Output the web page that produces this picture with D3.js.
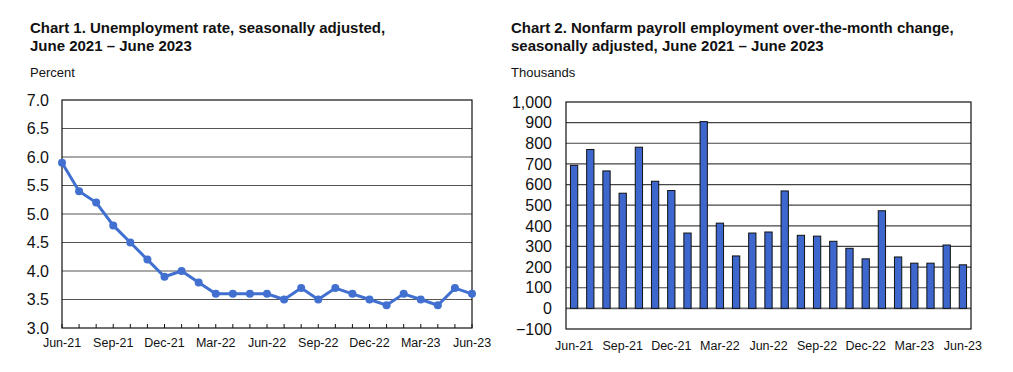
<!DOCTYPE html>
<html>
<head>
<meta charset="utf-8">
<script src="https://cdn.jsdelivr.net/npm/d3@7"></script>
<style>
  body { margin: 0; background: #fff; }
  svg { font-family: Arial, "Liberation Sans", sans-serif; }
</style>
</head>
<body>
<svg id="chart" width="1013" height="372"></svg>
<script>
// months shared by both charts
const months = ["Jun-21","Jul-21","Aug-21","Sep-21","Oct-21","Nov-21","Dec-21","Jan-22","Feb-22","Mar-22",
  "Apr-22","May-22","Jun-22","Jul-22","Aug-22","Sep-22","Oct-22","Nov-22","Dec-22","Jan-23",
  "Feb-23","Mar-23","Apr-23","May-23","Jun-23"];
const labelMonths = ["Jun-21","Sep-21","Dec-21","Mar-22","Jun-22","Sep-22","Dec-22","Mar-23","Jun-23"];

// chart 1: unemployment rate (percent)
const unemployment = [5.9,5.4,5.2,4.8,4.5,4.2,3.9,4.0,3.8,3.6,3.6,3.6,3.6,3.5,3.7,3.5,3.7,3.6,3.5,3.4,3.6,3.5,3.4,3.7,3.6];
const rateTicks = [3.0,3.5,4.0,4.5,5.0,5.5,6.0,6.5,7.0];

// chart 2: payroll change (thousands)
const payroll = [693,770,666,558,781,616,571,365,905,413,254,365,370,569,354,350,325,291,240,473,249,219,219,307,211];
const payrollTicks = [-100,0,100,200,300,400,500,600,700,800,900,1000];

const svg = d3.select("#chart");
const blue = "#4170d0";

function titleBlock(x, lines, unit) {
  const t = svg.append("text")
    .attr("x", x).attr("y", 33)
    .attr("font-size", 15).attr("font-weight", "bold").attr("fill", "#111");
  lines.forEach((l, i) => {
    t.append("tspan").attr("x", x).attr("dy", i === 0 ? 0 : 18).text(l);
  });
  svg.append("text").attr("x", x).attr("y", 77)
    .attr("font-size", 13).attr("fill", "#111").text(unit);
}

// ---------- Chart 1 ----------
titleBlock(30, ["Chart 1. Unemployment rate, seasonally adjusted,", "June 2021 \u2013 June 2023"], "Percent");

const m1 = {left: 62, right: 472, top: 100, bottom: 328};
const x1 = d3.scalePoint().domain(months).range([m1.left, m1.right]);
const y1 = d3.scaleLinear().domain([3, 7]).range([m1.bottom, m1.top]);

const g1 = svg.append("g");
g1.selectAll("line.grid").data(rateTicks.slice(1, -1)).join("line")
  .attr("class", "grid")
  .attr("x1", m1.left).attr("x2", m1.right)
  .attr("y1", d => y1(d)).attr("y2", d => y1(d))
  .attr("stroke", "#555").attr("stroke-width", 1.2);

g1.append("rect")
  .attr("x", m1.left).attr("y", m1.top)
  .attr("width", m1.right - m1.left).attr("height", m1.bottom - m1.top)
  .attr("fill", "none").attr("stroke", "#111").attr("stroke-width", 1.2);

// month ticks pointing up into the plot
g1.selectAll("line.tick").data(months).join("line")
  .attr("class", "tick")
  .attr("x1", d => x1(d)).attr("x2", d => x1(d))
  .attr("y1", m1.bottom).attr("y2", m1.bottom - 4)
  .attr("stroke", "#111");

g1.selectAll("text.ylab").data(rateTicks).join("text")
  .attr("class", "ylab")
  .attr("x", 49).attr("y", d => y1(d)).attr("dy", "0.36em")
  .attr("text-anchor", "end").attr("font-size", 16).attr("fill", "#111")
  .text(d => d3.format(".1f")(d));

g1.selectAll("text.xlab").data(labelMonths).join("text")
  .attr("class", "xlab")
  .attr("x", d => x1(d)).attr("y", 347)
  .attr("text-anchor", "middle").attr("font-size", 12.5).attr("fill", "#111")
  .text(d => d);

const line = d3.line().x((d, i) => x1(months[i])).y(d => y1(d));
g1.append("path").datum(unemployment)
  .attr("d", line).attr("fill", "none")
  .attr("stroke", blue).attr("stroke-width", 3);
g1.selectAll("circle").data(unemployment).join("circle")
  .attr("cx", (d, i) => x1(months[i])).attr("cy", d => y1(d))
  .attr("r", 4).attr("fill", blue);

// ---------- Chart 2 ----------
titleBlock(511, ["Chart 2. Nonfarm payroll employment over-the-month change,", "seasonally adjusted, June 2021 \u2013 June 2023"], "Thousands");

const m2 = {left: 566, right: 971, top: 102, bottom: 329};
const x2 = d3.scaleBand().domain(months).range([m2.left, m2.right]).paddingInner(0.55).paddingOuter(0.275);
const y2 = d3.scaleLinear().domain([-100, 1000]).range([m2.bottom, m2.top]);

const g2 = svg.append("g");
g2.selectAll("line.grid").data(payrollTicks.slice(1, -1)).join("line")
  .attr("class", "grid")
  .attr("x1", m2.left).attr("x2", m2.right)
  .attr("y1", d => y2(d)).attr("y2", d => y2(d))
  .attr("stroke", d => d === 0 ? "#666" : "#444").attr("stroke-width", d => d === 0 ? 1.8 : 1.2);

g2.selectAll("rect.bar").data(payroll).join("rect")
  .attr("class", "bar")
  .attr("x", (d, i) => x2(months[i])).attr("width", x2.bandwidth())
  .attr("y", d => y2(Math.max(0, d))).attr("height", d => Math.abs(y2(d) - y2(0)))
  .attr("fill", "#3d67cc").attr("stroke", "#111").attr("stroke-width", 1);

g2.append("rect")
  .attr("x", m2.left).attr("y", m2.top)
  .attr("width", m2.right - m2.left).attr("height", m2.bottom - m2.top)
  .attr("fill", "none").attr("stroke", "#111").attr("stroke-width", 1.2);

g2.selectAll("text.ylab").data(payrollTicks).join("text")
  .attr("class", "ylab")
  .attr("x", 552).attr("y", d => y2(d)).attr("dy", "0.36em")
  .attr("text-anchor", "end").attr("font-size", 16).attr("fill", "#111")
  .text(d => d3.format(",")(d));

g2.selectAll("text.xlab").data(labelMonths).join("text")
  .attr("class", "xlab")
  .attr("x", d => x2(d) + x2.bandwidth() / 2).attr("y", 350)
  .attr("text-anchor", "middle").attr("font-size", 12.5).attr("fill", "#111")
  .text(d => d);
</script>
</body>
</html>
